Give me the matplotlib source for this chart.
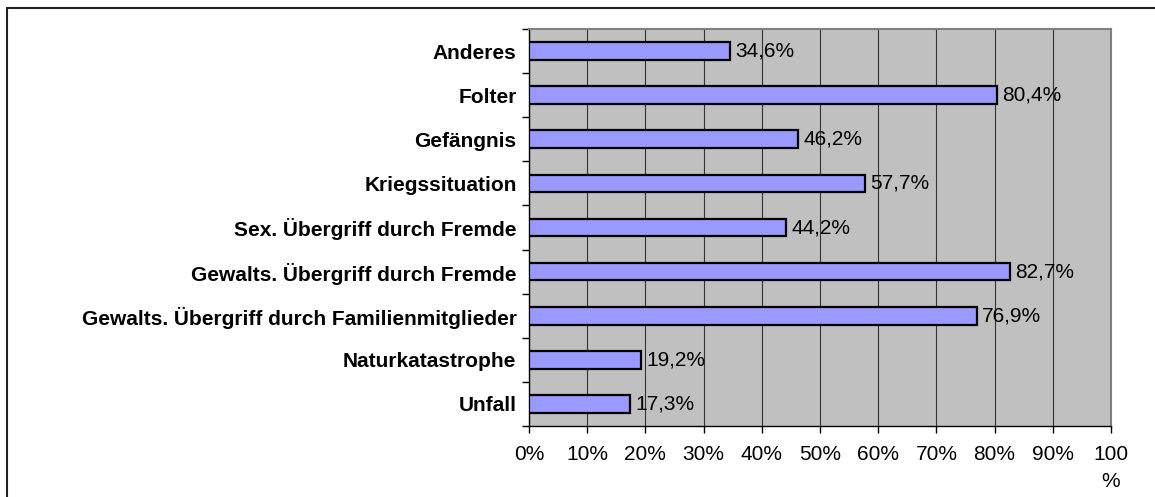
import matplotlib.pyplot as plt
from matplotlib.patches import Rectangle
import numpy as np

plt.rcParams['font.family'] = ['Liberation Sans', 'DejaVu Sans']

# categories from bottom to top
categories = ["Unfall",
              "Naturkatastrophe",
              "Gewalts. Übergriff durch Familienmitglieder",
              "Gewalts. Übergriff durch Fremde",
              "Sex. Übergriff durch Fremde",
              "Kriegssituation",
              "Gefängnis",
              "Folter",
              "Anderes"]
values = [17.3, 19.2, 76.9, 82.7, 44.2, 57.7, 46.2, 80.4, 34.6]
xticks = [0, 10, 20, 30, 40, 50, 60, 70, 80, 90, 100]
xtick_labels = ["0%", "10%", "20%", "30%", "40%", "50%", "60%", "70%", "80%", "90%", "100\n%"]

W, H = 1155, 497
fig = plt.figure(figsize=(W / 100, H / 100), dpi=100)
ax = fig.add_axes([529 / W, 1 - 426 / H, (1111 - 529) / W, (426 - 29) / H])

# outer frame (runs off the right and bottom edge)
fig.patches.append(Rectangle((7 / W, -0.2), 2, 1.2 - 8 / H, transform=fig.transFigure,
                             fill=False, edgecolor="#222222", linewidth=1.5))

ax.set_facecolor("#C0C0C0")
y = np.arange(len(categories))
ax.barh(y, values, height=0.4, color="#9999FF", edgecolor="black", linewidth=1.6, zorder=3)

for yi, v in zip(y, values):
    ax.text(v + 0.9, yi, f"{v:.1f}%".replace(".", ","), va="center", ha="left",
            fontsize=15, zorder=4)

ax.set_xlim(0, 100)
ax.set_ylim(-0.5, len(categories) - 0.5)
ax.set_xticks(xticks)
ax.set_xticklabels(xtick_labels, fontsize=15, linespacing=1.55)
ax.set_yticks(y)
ax.set_yticklabels(categories, fontsize=15, fontweight="bold")
ax.set_yticks(np.arange(-0.5, len(categories)), minor=True)

ax.tick_params(axis="y", which="major", length=0, pad=9)
ax.tick_params(axis="y", which="minor", length=5, width=1, direction="out")
ax.tick_params(axis="x", length=5, width=1, direction="out", pad=8.5)

ax.xaxis.grid(True, color="#333333", linewidth=0.8, zorder=1)
ax.set_axisbelow(True)

for s in ["top", "right"]:
    ax.spines[s].set_color("#808080")
    ax.spines[s].set_linewidth(1.5)
for s in ["left", "bottom"]:
    ax.spines[s].set_color("black")
    ax.spines[s].set_linewidth(1.0)

fig.savefig("out.png", dpi=100)
